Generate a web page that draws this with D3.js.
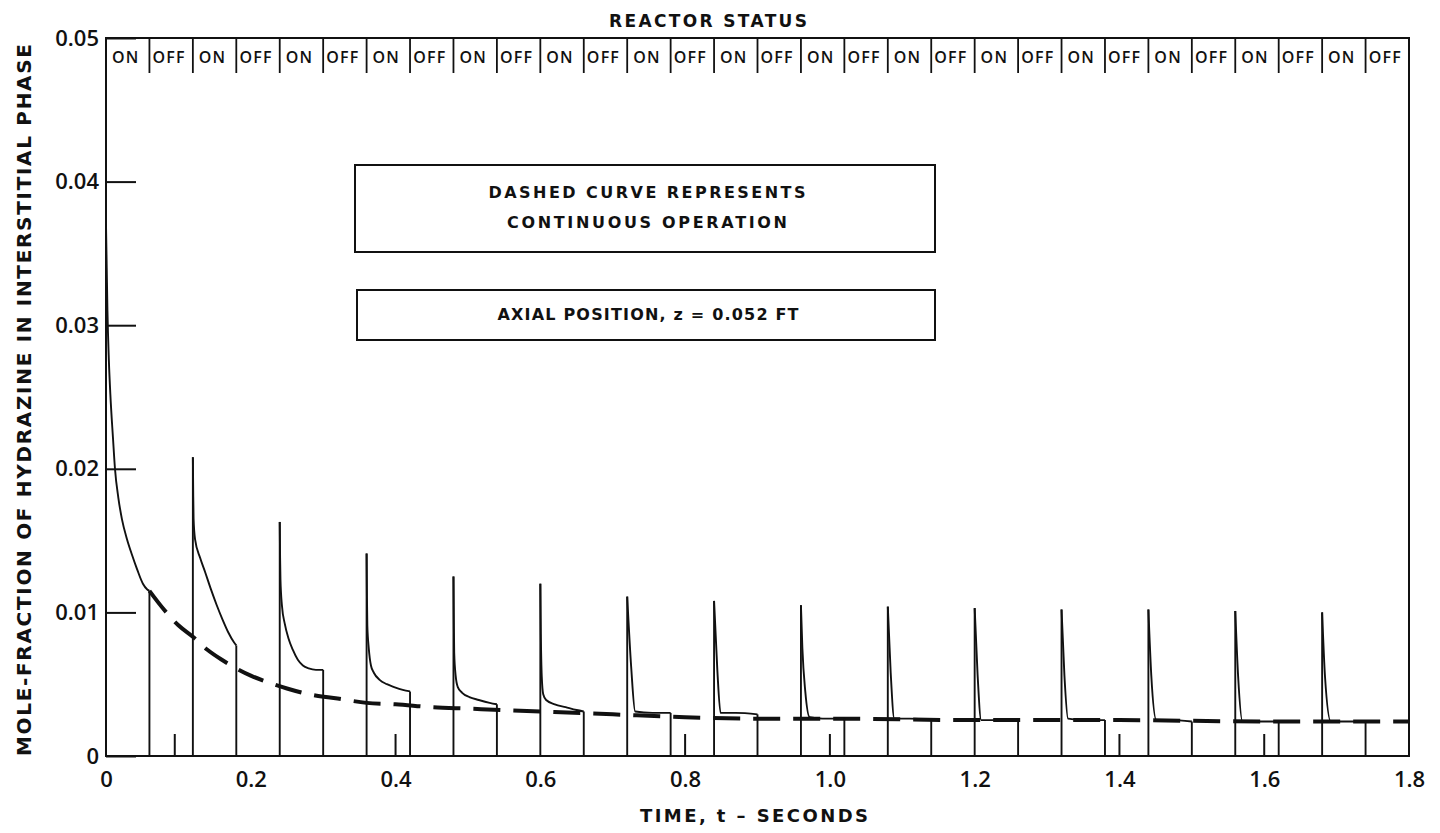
<!DOCTYPE html>
<html>
<head>
<meta charset="utf-8">
<script src="https://cdn.jsdelivr.net/npm/d3@7"></script>
<style>
  html, body { margin: 0; padding: 0; background: #fff; }
  svg { display: block; }
  text { font-family: "Open Sans", "DejaVu Sans", sans-serif; fill: #111; font-weight: 600; }
  .wide { font-family: "DejaVu Sans", "Open Sans", sans-serif; font-weight: 700; }
</style>
</head>
<body>
<svg id="chart" width="1440" height="833"></svg>
<script>
// ---- data -------------------------------------------------------------
// reactor switched ON at these times (s); each ON phase lasts 0.06 s, then OFF for 0.06 s
const onTimes = [0, 0.12, 0.24, 0.36, 0.48, 0.60, 0.72, 0.84, 0.96, 1.08, 1.20, 1.32, 1.44, 1.56, 1.68];
const onDuration = 0.06;
const statusLabels = ["ON", "OFF"];

// mole fraction during each ON phase, [time s, mole fraction]
const pulse01 = [[0, 0.037], [0.001, 0.034], [0.002, 0.031], [0.004, 0.0275], [0.006, 0.0252], [0.0097, 0.0221], [0.0124, 0.0200], [0.017, 0.0180], [0.022, 0.0165], [0.029, 0.0151], [0.036, 0.0140], [0.043, 0.0130], [0.051, 0.0120], [0.057, 0.0116], [0.06, 0.0115]];
const pulse02 = [[0.12, 0.0208], [0.1205, 0.0182], [0.121, 0.0165], [0.123, 0.0151], [0.13, 0.0138], [0.137, 0.0128], [0.145, 0.0116], [0.153, 0.0105], [0.161, 0.0095], [0.169, 0.0086], [0.177, 0.0079], [0.18, 0.0077]];
const pulse03 = [[0.24, 0.0163], [0.2405, 0.0138], [0.241, 0.0123], [0.243, 0.0105], [0.247, 0.0092], [0.252, 0.0082], [0.258, 0.0074], [0.265, 0.0067], [0.272, 0.0063], [0.28, 0.0061], [0.29, 0.0060], [0.30, 0.0060]];
const pulse04 = [[0.36, 0.0141], [0.3605, 0.0110], [0.361, 0.0091], [0.363, 0.0075], [0.366, 0.0063], [0.37, 0.0058], [0.378, 0.0053], [0.388, 0.0050], [0.398, 0.0048], [0.41, 0.0046], [0.42, 0.0045]];
const pulse05 = [[0.48, 0.0125], [0.4805, 0.0095], [0.481, 0.0072], [0.483, 0.0056], [0.486, 0.0048], [0.492, 0.0044], [0.502, 0.0041], [0.515, 0.0039], [0.53, 0.0037], [0.54, 0.0036]];
const pulse06 = [[0.60, 0.0120], [0.6007, 0.0085], [0.602, 0.0055], [0.604, 0.0043], [0.608, 0.0039], [0.62, 0.0036], [0.635, 0.0034], [0.65, 0.0032], [0.66, 0.0031]];
const pulse07 = [[0.72, 0.0111], [0.7255, 0.0062], [0.731, 0.0031], [0.755, 0.0030], [0.78, 0.0030]];
const pulse08 = [[0.84, 0.0108], [0.8445, 0.0060], [0.849, 0.0030], [0.87, 0.0030], [0.90, 0.0029]];
const pulse09 = [[0.96, 0.0105], [0.962, 0.0075], [0.966, 0.0045], [0.972, 0.0027], [0.99, 0.0026], [1.02, 0.0026]];
const pulse10 = [[1.08, 0.0104], [1.084, 0.0058], [1.089, 0.0026], [1.11, 0.0026], [1.14, 0.0025]];
const pulse11 = [[1.20, 0.0103], [1.204, 0.0057], [1.209, 0.0025], [1.23, 0.0025], [1.26, 0.0025]];
const pulse12 = [[1.32, 0.0102], [1.324, 0.0056], [1.329, 0.0026], [1.35, 0.0025], [1.38, 0.0025]];
const pulse13 = [[1.44, 0.0102], [1.444, 0.0056], [1.451, 0.0025], [1.47, 0.0025], [1.50, 0.0024]];
const pulse14 = [[1.56, 0.0101], [1.564, 0.0055], [1.57, 0.0024], [1.59, 0.0024], [1.62, 0.0024]];
const pulse15 = [[1.68, 0.0100], [1.684, 0.0055], [1.692, 0.0024], [1.71, 0.0024], [1.74, 0.0024]];
const pulses = [pulse01, pulse02, pulse03, pulse04, pulse05, pulse06, pulse07, pulse08,
                pulse09, pulse10, pulse11, pulse12, pulse13, pulse14, pulse15];

// continuous operation (dashed curve)
const continuous = [[0.06, 0.0115], [0.08, 0.0102], [0.10, 0.0091], [0.12, 0.0083], [0.14, 0.0074], [0.16, 0.0067],
                    [0.18, 0.0061], [0.20, 0.0056], [0.22, 0.0052], [0.25, 0.0047], [0.28, 0.0043], [0.32, 0.0040],
                    [0.36, 0.0037], [0.40, 0.0036], [0.45, 0.0034], [0.50, 0.0033], [0.60, 0.0031], [0.70, 0.0029],
                    [0.80, 0.0027], [0.90, 0.0026], [1.00, 0.0026], [1.20, 0.0025], [1.40, 0.0025], [1.60, 0.0024], [1.80, 0.0024]];

const xTicks = [0, 0.2, 0.4, 0.6, 0.8, 1.0, 1.2, 1.4, 1.6, 1.8];
const yTicks = [0, 0.01, 0.02, 0.03, 0.04, 0.05];
const baseTicks = [0.095, 0.4, 0.8, 1.0, 1.4, 1.6];   // short marks standing on the time axis

// ---- layout -----------------------------------------------------------
const svg = d3.select("#chart");
const x = d3.scaleLinear().domain([0, 1.8]).range([106, 1409]);
const y = d3.scaleLinear().domain([0, 0.05]).range([756, 38]);
const ink = "#111";

// frame
svg.append("rect")
  .attr("x", x(0)).attr("y", y(0.05))
  .attr("width", x(1.8) - x(0)).attr("height", y(0) - y(0.05))
  .attr("fill", "none").attr("stroke", ink).attr("stroke-width", 2);

// time axis labels
const xAxis = svg.append("g")
  .attr("transform", `translate(0,${y(0)})`)
  .call(d3.axisBottom(x).tickValues(xTicks).tickSize(0).tickPadding(15)
        .tickFormat(d => d === 0 ? "0" : d.toFixed(1)));
xAxis.select(".domain").remove();
xAxis.selectAll("text").style("font-size", "22px").style("font-family", null).attr("fill", ink);

// mole-fraction axis with inward ticks
const yAxis = svg.append("g")
  .attr("transform", `translate(${x(0)},0)`)
  .call(d3.axisLeft(y).tickValues(yTicks).tickSizeInner(-30).tickSizeOuter(0).tickPadding(7)
        .tickFormat(d => d === 0 ? "0" : d.toFixed(2)));
yAxis.select(".domain").remove();
yAxis.selectAll("line").attr("stroke", ink).attr("stroke-width", 2);
yAxis.selectAll("text").style("font-size", "22px").style("font-family", null).attr("fill", ink);

// short marks on the time axis
svg.append("g").selectAll("line").data(baseTicks).join("line")
  .attr("x1", d => x(d)).attr("x2", d => x(d))
  .attr("y1", y(0)).attr("y2", y(0) - 22)
  .attr("stroke", ink).attr("stroke-width", 2);

// reactor status strip
const segments = [];
onTimes.forEach(t => {
  segments.push({ t0: t, t1: t + onDuration, label: statusLabels[0] });
  segments.push({ t0: t + onDuration, t1: t + 2 * onDuration, label: statusLabels[1] });
});
svg.append("g").selectAll("text").data(segments).join("text")
  .attr("x", d => x((d.t0 + d.t1) / 2) - 2).attr("y", 63)
  .attr("text-anchor", "middle").style("font-size", "16px").style("letter-spacing", "1.2px")
  .text(d => d.label);
svg.append("g").selectAll("line").data(segments.slice(1)).join("line")
  .attr("x1", d => x(d.t0)).attr("x2", d => x(d.t0))
  .attr("y1", y(0.05)).attr("y2", 73)
  .attr("stroke", ink).attr("stroke-width", 1.8);

svg.append("text").attr("class", "wide").attr("x", 708).attr("y", 27).attr("text-anchor", "middle")
  .style("font-size", "17px")
  .attr("textLength", 198).attr("lengthAdjust", "spacing")
  .text("REACTOR STATUS");

// continuous operation (dashed)
svg.append("path").datum(continuous)
  .attr("d", d3.line().x(d => x(d[0])).y(d => y(d[1])).curve(d3.curveMonotoneX))
  .attr("fill", "none").attr("stroke", ink).attr("stroke-width", 4)
  .attr("stroke-dasharray", "27 13");

// pulsed operation (solid): rise at switch-on, decay, drop at switch-off
const decay = d3.line().x(d => x(d[0])).y(d => y(d[1])).curve(d3.curveMonotoneX);
const pulseG = svg.append("g").attr("fill", "none").attr("stroke", ink).attr("stroke-width", 1.9);
pulses.forEach(p => {
  const first = p[0], last = p[p.length - 1];
  pulseG.append("line")
    .attr("x1", x(first[0])).attr("x2", x(first[0]))
    .attr("y1", y(0)).attr("y2", y(first[1]));
  pulseG.append("path").datum(p).attr("d", decay);
  pulseG.append("line")
    .attr("x1", x(last[0])).attr("x2", x(last[0]))
    .attr("y1", y(last[1])).attr("y2", y(0));
});

// note boxes
const notes = svg.append("g");
const noteText = (px, py, len, str) => notes.append("text").attr("class", "wide")
  .attr("x", px).attr("y", py).attr("text-anchor", "middle")
  .style("font-size", "16px").attr("textLength", len).attr("lengthAdjust", "spacing")
  .text(str);
notes.append("rect").attr("x", 355).attr("y", 165).attr("width", 580).attr("height", 87)
  .attr("fill", "none").attr("stroke", ink).attr("stroke-width", 2);
noteText(647, 198, 317, "DASHED CURVE REPRESENTS");
noteText(647, 228, 280, "CONTINUOUS OPERATION");
notes.append("rect").attr("x", 357).attr("y", 290).attr("width", 578).attr("height", 50)
  .attr("fill", "none").attr("stroke", ink).attr("stroke-width", 2);
noteText(648, 320, 301, "AXIAL POSITION, z = 0.052 FT");

// axis titles
svg.append("text").attr("class", "wide").attr("x", 754).attr("y", 822).attr("text-anchor", "middle")
  .style("font-size", "18px")
  .attr("textLength", 228).attr("lengthAdjust", "spacing")
  .text("TIME, t \u2013 SECONDS");
svg.append("text").attr("class", "wide").attr("transform", "translate(31,400) rotate(-90)").attr("text-anchor", "middle")
  .style("font-size", "20px")
  .attr("textLength", 712).attr("lengthAdjust", "spacing")
  .text("MOLE-FRACTION OF HYDRAZINE IN INTERSTITIAL PHASE");
</script>
</body>
</html>
